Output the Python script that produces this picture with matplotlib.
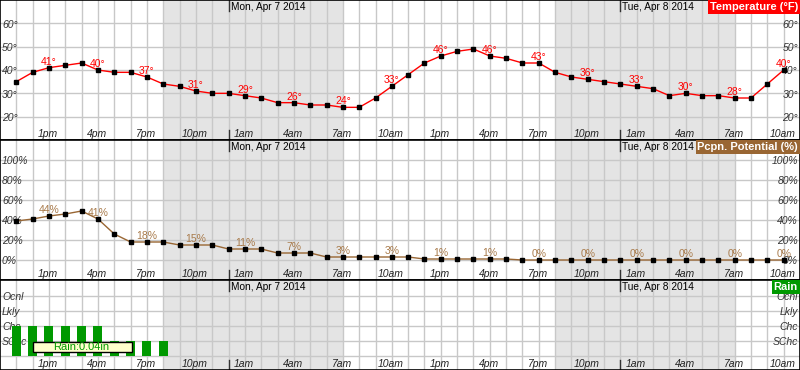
import numpy as np
import pandas as pd
import matplotlib
matplotlib.use("Agg")
import matplotlib.pyplot as plt
import matplotlib.dates as mdates
import matplotlib.transforms as mtransforms
from matplotlib.patches import Rectangle

plt.rcParams['font.family'] = ['Liberation Sans', 'DejaVu Sans']

# hourly forecast, 11am Sun Apr 6 -> 10am Tue Apr 8 2014
times = pd.date_range('2014-04-06 11:00', periods=48, freq='h')

temp = [35, 39, 41, 42, 43, 40, 39, 39, 37, 34, 33, 31, 30, 30, 29, 28,
        26, 26, 25, 25, 24, 24, 28, 33, 38, 43, 46, 48, 49, 46, 45, 43,
        43, 39, 37, 36, 35, 34, 33, 32, 29, 30, 29, 29, 28, 28, 34, 40]

pop = [39, 41, 44, 46, 49, 41, 26, 18, 18, 18, 15, 15, 15, 11, 11, 11,
       7, 7, 7, 3, 3, 3, 3, 3, 3, 1, 1, 1, 1, 1, 1, 0,
       0, 0, 0, 0, 0, 0, 0, 0, 0, 0, 0, 0, 0, 0, 0, 0]

# 0 none, 1 SChc, 2 Chc, 3 Lkly, 4 Ocnl
rain = [2, 2, 2, 2, 2, 2, 1, 1, 1, 1, 0, 0, 0, 0, 0, 0,
        0, 0, 0, 0, 0, 0, 0, 0, 0, 0, 0, 0, 0, 0, 0, 0,
        0, 0, 0, 0, 0, 0, 0, 0, 0, 0, 0, 0, 0, 0, 0, 0]
rain_cats = ['SChc', 'Chc', 'Lkly', 'Ocnl']
rain_total = '0.04in'

temp_ticks = [20, 30, 40, 50, 60]
pop_ticks = [0, 20, 40, 60, 80, 100]

nights = [('2014-04-06 20:00', '2014-04-07 07:00'),
          ('2014-04-07 20:00', '2014-04-08 07:00')]
days = [('2014-04-07', 'Mon, Apr 7 2014'), ('2014-04-08', 'Tue, Apr 8 2014')]

W, H = 800, 370
GRID = '#c8c8c8'
SHADE = '#e4e4e4'
RED = '#ff0000'
BROWN = '#996633'
GREEN = '#009900'

x = mdates.date2num(times)
hour = 1 / 24
labeled = list(range(2, 48, 3))

fig = plt.figure(figsize=(8, 3.7), dpi=100)


def panel(top, bottom):
    return fig.add_axes([0, 1 - bottom / H, 1, (bottom - top) / H])


def dots(ax, dx=0, dy=0, base=None):
    return mtransforms.offset_copy(base if base is not None else ax.transData,
                                   fig=fig, x=dx, y=dy, units='dots')


def setup(ax, ylim, ylevels, top, bottom, title, tcolor, ylabels):
    hpx = bottom - top
    ax.set_xlim(x[0] - hour, x[-1] + hour)
    ax.set_ylim(*ylim)
    ax.set_xticks(x)
    ax.set_yticks(ylevels)
    ax.tick_params(length=0, labelbottom=False, labelleft=False)
    ax.grid(True, color=GRID, lw=1)
    ax.set_axisbelow(True)
    for s in ax.spines.values():
        s.set_color('black')
        s.set_linewidth(1.2)
    for a, b in nights:
        ax.axvspan(mdates.date2num(pd.Timestamp(a)), mdates.date2num(pd.Timestamp(b)),
                   color=SHADE, lw=0, zorder=0)
    # day labels with midnight ticks
    for d, txt in days:
        m = mdates.date2num(pd.Timestamp(d))
        ax.axvline(m, ymin=1 - 11 / hpx, ymax=1, color='#333333', lw=1, zorder=2)
        ax.axvline(m, ymin=0, ymax=10 / hpx, color='#333333', lw=1, zorder=2)
        ax.text(m, 1, txt, transform=dots(ax, 2, -2, ax.get_xaxis_transform()),
                ha='left', va='top', fontsize=7.3, color='black')
    # hour labels along the bottom of the panel
    xt = ax.get_xaxis_transform()
    for i in labeled:
        lab = times[i].strftime('%I%p').lstrip('0').lower()
        ax.text(x[i], 0, lab, transform=dots(ax, -1, 3, xt), ha='center',
                va='baseline', fontsize=7.5, style='italic', color='#222222')
    # y labels inside both edges
    yt = ax.get_yaxis_transform()
    for v, lab in zip(ylevels, ylabels):
        ax.text(0, v, lab, transform=dots(ax, 2, -1.5, yt), ha='left', va='center',
                fontsize=7.5, style='italic', color='#333333')
        ax.text(1, v, lab, transform=dots(ax, -2, -1.5, yt), ha='right', va='center',
                fontsize=7.5, style='italic', color='#333333')
    ax.text(1, 1, title, transform=dots(ax, -2, -2, ax.transAxes), ha='right', va='top',
            fontsize=8, fontweight='bold', color='white',
            bbox=dict(boxstyle='square,pad=0.15', fc=tcolor, ec='none'), zorder=5)


ax1 = panel(0, 140)
ax2 = panel(140, 280)
ax3 = panel(280, 370)

setup(ax1, (10, 70), temp_ticks, 0, 140, 'Temperature (°F)', RED,
      [f'{v}°' for v in temp_ticks])
setup(ax2, (-20, 120), pop_ticks, 140, 280, 'Pcpn. Potential (%)', BROWN,
      [f'{v}%' for v in pop_ticks])
setup(ax3, (-0.95, 5.05), [0, 1, 2, 3, 4], 280, 370, 'Rain', GREEN,
      [''] + rain_cats)

# temperature
ax1.plot(x, temp, color=RED, lw=1, marker='s', ms=2.2, mfc='black', mec='black', zorder=3)
for i in labeled:
    ax1.annotate(f'{temp[i]}°', (x[i], temp[i]), xytext=(0, 3), textcoords='offset pixels',
                 ha='center', va='baseline', fontsize=7.5, color=RED, zorder=4)

# precipitation potential
ax2.plot(x, pop, color=BROWN, lw=1, marker='s', ms=2.2, mfc='black', mec='black', zorder=3)
for i in labeled:
    ax2.annotate(f'{pop[i]}%', (x[i], pop[i]), xytext=(0, 3), textcoords='offset pixels',
                 ha='center', va='baseline', fontsize=7.5, color='#a87a4a', zorder=4)

# rain chances
rx = [xi for xi, r in zip(x, rain) if r > 0]
rh = [r for r in rain if r > 0]
ax3.bar(rx, rh, width=0.55 * hour, color=GREEN, zorder=3)
ax3.add_patch(Rectangle((x[1], 0.25), x[7] - x[1] + 0.1 * hour, 0.66,
                        fc='#ffffcc', ec='black', lw=1, zorder=4))
ax3.text(x[4], 0.58, f'Rain:{rain_total}', ha='center', va='center', fontsize=8,
         color=GREEN, zorder=5)

fig.savefig('out.png', dpi=100)
